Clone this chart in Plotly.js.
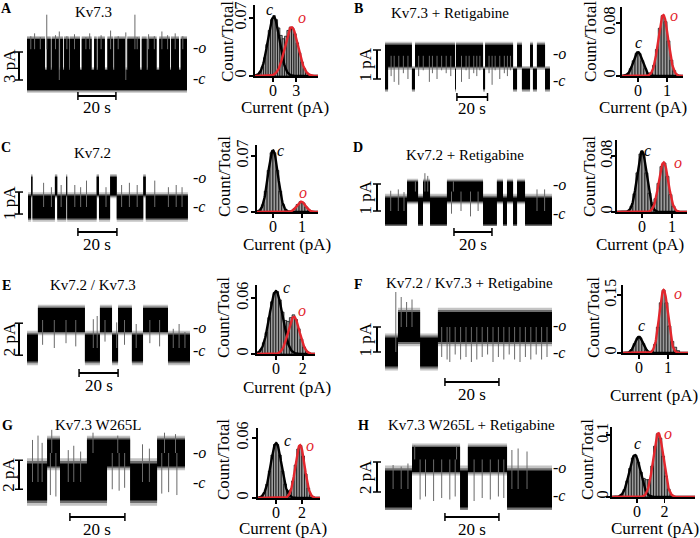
<!DOCTYPE html>
<html><head><meta charset="utf-8">
<script src="https://cdn.plot.ly/plotly-3.0.1.min.js"></script>
<style>html,body{margin:0;padding:0;background:#fff}#chart{width:700px;height:538px}</style>
</head><body><div id="chart"></div>
<script>
// ================= DATA =================
const panelLetters = ['A','B','C','D','E','F','G','H'];
const panelTitles = ['Kv7.3','Kv7.3 + Retigabine','Kv7.2','Kv7.2 + Retigabine','Kv7.2 / Kv7.3','Kv7.2 / Kv7.3 + Retigabine','Kv7.3 W265L','Kv7.3 W265L + Retigabine'];
const scaleBarPA = [3,1,1,1,2,1,2,2];
const scaleBarLabels = ['3 pA','1 pA','1 pA','1 pA','2 pA','1 pA','2 pA','2 pA'];
const timeBarS = 20;
const timeBarLabel = '20 s';
const openLevelPA = [3.3,0.8,0.95,0.72,1.75,1.0,2.0,1.97];
const noiseClosedPA = [1.07,0.35,0.52,0.5,0.84,0.58,1.28,1.23];
const noiseOpenPA = [1.1,0.38,0.43,0.37,0.75,0.6,0.93,0.83];

// single-channel records: dwell boundaries (s) and states (0 closed, 1 open, 2 flickering)
const traceA_t = [0,9.5,10.4,12.5,13.0,16.8,17.4,19.0,19.5,22.3,22.6,27.9,28.8,34.0,35.3,36.7,37.2,41.0,42.3,45.4,45.9,51.6,52.8,59.5,60.4,63.0,63.5,68.2,69.6,75.3,75.8,80.0,80.9,84.2];
const traceA_s = [2,0,2,0,2,0,2,0,2,0,2,0,2,0,2,0,2,0,2,0,2,0,2,0,2,0,2,0,2,0,2,0,2];
const traceB_t = [0,2.0,17.6,19.6,45.8,46.4,64.1,65.4,83.7,86.3,89.5,94.8,96.7,99.3,104.6,107.8];
const traceB_s = [2,1,0,1,0,1,0,1,0,1,0,1,0,1,0];
const traceC_t = [0,1.6,2.3,13.8,15.0,19.6,20.1,35.2,36.4,42.1,45.5,59.1,60.4,82.0];
const traceC_s = [0,1,0,1,0,1,0,1,0,1,0,1,0];
const traceD_t = [0,11.6,17.4,20.0,23.7,32.6,51.6,58.9,62.1,64.2,67.4,69.5,73.7,87.9];
const traceD_s = [0,1,0,1,0,1,0,1,0,1,0,1,0];
const traceE_t = [0,5.6,29.7,37.4,43.6,46.7,53.8,59.5,72.3,83.6];
const traceE_s = [0,1,0,1,0,1,0,1,0];
const traceF_t = [0,4.8,13.0,19.6,61.9];
const traceF_s = [0,1,0,1];
const traceG_t = [0,7.3,12.0,21.8,29.1,37.5,47.3,57.5];
const traceG_s = [0,1,0,2,1,0,1];
const traceH_t = [0,10.0,27.8,30.7,45.2,61.9];
const traceH_s = [0,1,0,1,0];

// brief events (gray spikes): time (s) and tip current (pA)
const spikeA_t = [2,4,7,10.4,15,17,21,25,31,33,39,44,48,52,56.8,58,64,67,71,74,78,82];
const spikeA_v = [4.7,5.0,4.6,7.0,4.8,5.2,4.7,4.9,4.6,5.0,4.8,5.3,4.7,5.1,7.0,4.6,4.9,4.7,5.2,4.8,5.0,4.7];
const spikeB_t = [4,6,9,12,15,22,25,29,31,34,37,40,43,50,53,55,58,60,62,68,70,72,75,78,80,82];
const spikeB_v = [0.1,-0.1,-0.2,0.2,0.0,0.1,0.3,-0.1,0.2,0.0,0.3,0.2,0.1,-0.1,0.3,0.0,0.2,0.1,0.3,0.2,-0.2,0.3,0.0,0.2,0.1,0.3];
const spikeC_t = [8,12,17,24,27,30,40,48,52,56,65,72,76,79];
const spikeC_v = [1.1,0.9,1.0,1.0,0.9,1.2,0.9,1.0,1.1,1.0,1.2,0.9,1.0,0.9];
const spikeD_t = [3,7,10,16,21,22.5,35,36,40,45,49,80,84];
const spikeD_v = [0.75,0.8,0.7,1.1,1.4,1.3,-0.1,1.1,0.0,-0.2,0.0,0.8,0.8];
const spikeE_t = [8,14,20,25,34,36,40,46,50,56,63,68,75,78,81];
const spikeE_v = [0.2,0.0,0.3,0.1,1.8,2.0,0.4,1.6,0.2,1.5,0.3,0.1,1.2,1.5,1.0];
const spikeF_t = [4.0,6.0,8.0,10.0,21,23,24,26,28,30,32,34,36,38,40,42,44,46,48,50,52,54,56,58,60];
const spikeF_v = [2.4,2.2,2.0,2.1,-0.2,-0.3,-0.4,-0.1,-0.3,-0.2,-0.4,-0.3,-0.2,-0.1,-0.4,-0.2,-0.3,-0.1,-0.3,-0.4,-0.2,-0.3,-0.1,-0.3,-0.2];
const spikeG_t = [2,4,5.5,15,17,19.5,42,44.5,8.5,9,10.5,24,31,33,33.5,35.5,49,50,51.5,54,54.5];
const spikeG_v = [2.9,3.2,2.7,2.2,2.5,2.1,2.6,2.3,-0.9,3.6,-1.0,3.4,-0.5,3.2,-0.6,-0.4,-0.8,3.4,-0.7,3.3,-0.9];
const spikeH_t = [3,6,8.5,11,13,15,18,21,24,26,26.5,33,36,39,42,44,47,49.3,52.6];
const spikeH_v = [1.6,1.5,1.7,2.9,-0.7,-0.5,-0.8,-0.6,-0.7,-0.5,2.8,-0.8,-0.6,-0.7,-0.5,-0.6,2.6,2.7,2.5];

// amplitude histograms: bin centres (pA) and fraction of counts
const histA_x = [-1.65,-1.35,-1.05,-0.75,-0.45,-0.15,0.15,0.45,0.75,1.05,1.35,1.65,1.95,2.25,2.55,2.85,3.15,3.45,3.75,4.05,4.35,4.65];
const histA_y = [0.005,0.011,0.022,0.038,0.055,0.068,0.073,0.068,0.058,0.049,0.045,0.048,0.055,0.059,0.058,0.051,0.040,0.028,0.017,0.009,0.004,0.002];
const histB_x = [-0.35,-0.25,-0.15,-0.05,0.05,0.15,0.25,0.35,0.45,0.55,0.65,0.75,0.85,0.95,1.05,1.15,1.25,1.35];
const histB_y = [0.003,0.011,0.023,0.034,0.034,0.023,0.011,0.004,0.005,0.016,0.040,0.072,0.091,0.082,0.053,0.024,0.008,0.002];
const histC_x = [-0.35,-0.25,-0.15,-0.05,0.05,0.15,0.25,0.35,0.45,0.55,0.65,0.75,0.85,0.95,1.05,1.15,1.25,1.35];
const histC_y = [0.009,0.026,0.052,0.074,0.074,0.052,0.026,0.009,0.002,0.001,0.0013,0.0044,0.0094,0.0129,0.0113,0.0063,0.0023,0.0005];
const histD_x = [-0.45,-0.35,-0.25,-0.15,-0.05,0.05,0.15,0.25,0.35,0.45,0.55,0.65,0.75,0.85,0.95,1.05,1.15];
const histD_y = [0.002,0.008,0.026,0.056,0.083,0.083,0.056,0.027,0.013,0.019,0.041,0.065,0.070,0.051,0.025,0.0085,0.002];
const histE_x = [-1.1,-0.9,-0.7,-0.5,-0.3,-0.1,0.1,0.3,0.5,0.7,0.9,1.1,1.3,1.5,1.7,1.9,2.1,2.3,2.5];
const histE_y = [0.005,0.012,0.023,0.039,0.056,0.066,0.067,0.058,0.045,0.036,0.035,0.039,0.042,0.037,0.027,0.016,0.0075,0.003,0.001];
const histF_x = [-0.35,-0.25,-0.15,-0.05,0.05,0.15,0.25,0.35,0.45,0.55,0.65,0.75,0.85,0.95,1.05,1.15,1.25,1.35];
const histF_y = [0.002,0.0085,0.024,0.039,0.039,0.024,0.0085,0.0024,0.005,0.022,0.067,0.130,0.163,0.130,0.070,0.030,0.015,0.006];
const histG_x = [-1.1,-0.9,-0.7,-0.5,-0.3,-0.1,0.1,0.3,0.5,0.7,0.9,1.1,1.3,1.5,1.7,1.9,2.1,2.3,2.5,2.7,2.9];
const histG_y = [0.002,0.0055,0.014,0.027,0.043,0.0535,0.0535,0.043,0.027,0.014,0.007,0.008,0.017,0.033,0.049,0.0525,0.042,0.024,0.010,0.003,0.001];
const histH_x = [-1.3,-1.1,-0.9,-0.7,-0.5,-0.3,-0.1,0.1,0.3,0.5,0.7,0.9,1.1,1.3,1.5,1.7,1.9,2.1,2.3,2.5,2.7];
const histH_y = [0.001,0.004,0.012,0.026,0.046,0.063,0.0675,0.056,0.040,0.030,0.028,0.028,0.050,0.082,0.102,0.095,0.066,0.034,0.013,0.004,0.001];

// Gaussian fits [mean pA, SD pA, peak]
const fitClosed = [[0.1,0.75,0.0715],[0,0.16,0.036],[0,0.17,0.077],[0,0.16,0.087],[0,0.48,0.0675],[0,0.14,0.042],[0,0.42,0.055],[-0.15,0.40,0.068]];
const fitOpen   = [[2.4,0.85,0.059],[0.87,0.17,0.092],[0.97,0.15,0.013],[0.72,0.16,0.071],[1.33,0.42,0.040],[0.85,0.15,0.163],[1.85,0.36,0.053],[1.55,0.37,0.103]];

const histXTicks = [[0,3],[0,1],[0,1],[0,1],[0,2],[0,1],[0,2],[0,2]];
const histYTicks = [[0,0.07],[0,0.08],[0,0.07],[0,0.08],[0,0.06],[0,0.15],[0,0.06],[0,0.1]];
const histYTickText = [['0','0.07'],['0','0.08'],['0','0.07'],['0','0.08'],['0','0.06'],['0','0.15'],['0','0.06'],['0','0.1']];

// ================= LAYOUT (pixels) =================
const W=700,H=538;
const fx=p=>p/W, fy=p=>1-p/H;
const FONT='Liberation Serif, serif';
const RED='#e3262d';
const tBox=[
 [27,187,8,98,80,9.33,1.9],
 [385,550,8,98,79,29,1.53],
 [28,188,145,226,207,22,1.95],
 [385,552,145,226,211,27,1.9],
 [27,190,280,368,348,16,1.95],
 [385,552,280,376,352,25,2.7],
 [27,185,418,510,482,14.5,2.75],
 [385,552,418,510,489,15,2.7]];
const vBarX=[19,377,19,377,19,377,19,377];
const vBarLo=[0,0,-0.32,0,-0.45,0,-0.5,-0.2];
const vBarTextX=[9,365,9,365,9,365,9,365];
const tBarStart=[26.8,47,25.6,36.3,26.7,22.2,15.6,22.2];
const tBarY=[96,97,232,232,373,382,517,517];
const hBox=[
 [255,318,5,76,[-2.3,5.8],0.0857,-4],
 [622,683,7,76,[-0.55,1.55],0.104,-6],
 [257,318,145,212,[-0.55,1.55],0.0837,-4],
 [617,687,140,212,[-0.83,1.5],0.103,-8],
 [257,315,285,354,[-1.4,2.9],0.074,-4],
 [623,688,285,353,[-0.55,1.69],0.176,-6],
 [258,320,428,498,[-1.4,3.4],0.07,-3],
 [612,695,427,497,[-1.8,4.2],0.113,-9]];
const letterPos=[[6,8],[358,8],[6,147],[358,147],[6,285],[358,284],[7,425],[363,425]];
const titlePos=[[93,12],[450,13],[92,153],[465,155],[93,285],[470,283],[98,425],[471,425]];
const ocX=[199,559,199,559,199,559,199,559];
const oY=[47,53,177,185,327,325,452,467];
const cY=[79,80,207,213,350,352,482,495];
const countPos=[[227,42],[590,42],[224,177],[589,177],[223,318],[593,318],[223,460],[587,460]];
const currentPos=[[285,108],[643,108],[287,244],[640,244],[287,387],[654,395],[283,528],[655,528]];
const histCPos=[[269,10],[638,43],[280,150],[647,150],[286,287],[641,325],[287,440],[637,443]];
const histOPos=[[302,17],[674,15],[303,192],[678,163],[302,310],[678,293],[310,445],[668,433]];

const traceT=[traceA_t,traceB_t,traceC_t,traceD_t,traceE_t,traceF_t,traceG_t,traceH_t];
const traceS=[traceA_s,traceB_s,traceC_s,traceD_s,traceE_s,traceF_s,traceG_s,traceH_s];
const spikeT=[spikeA_t,spikeB_t,spikeC_t,spikeD_t,spikeE_t,spikeF_t,spikeG_t,spikeH_t];
const spikeV=[spikeA_v,spikeB_v,spikeC_v,spikeD_v,spikeE_v,spikeF_v,spikeG_v,spikeH_v];
const histX=[histA_x,histB_x,histC_x,histD_x,histE_x,histF_x,histG_x,histH_x];
const histY=[histA_y,histB_y,histC_y,histD_y,histE_y,histF_y,histG_y,histH_y];

const data=[], shapes=[], annotations=[];
const layout={width:W,height:H,margin:{l:0,r:0,t:0,b:0},paper_bgcolor:'#fff',plot_bgcolor:'rgba(0,0,0,0)',
  showlegend:false,bargap:0,font:{family:FONT,size:15,color:'#000'}};

function band(t,s,o,wc,wo,k){
  const ux=[],uy=[],lx=[],ly=[];
  for(let i=0;i<s.length;i++){
    const u=(s[i]===0?0:o)+k*(s[i]===0?wc:wo);
    const l=(s[i]===1?o:0)-k*(s[i]===1?wo:wc);
    ux.push(t[i],t[i+1]); uy.push(u,u); lx.push(t[i],t[i+1]); ly.push(l,l);
  }
  return {x:ux.concat(lx.slice().reverse()), y:uy.concat(ly.slice().reverse())};
}
function stateAt(t,s,x){for(let i=0;i<s.length;i++){if(x>=t[i]&&x<t[i+1])return s[i];}return s[s.length-1];}
function ann(text,x,y,opt){annotations.push(Object.assign({text,x:fx(x),y:fy(y),xref:'paper',yref:'paper',showarrow:false,xanchor:'center',yanchor:'middle',font:{family:FONT,size:16,color:'#000'}},opt||{}));}

for(let p=0;p<8;p++){
  const ti=2*p+1, hi=2*p+2;
  const [x0,x1,yT,yB,cPx,ppa,pps]=tBox[p];
  const dur=(x1-x0)/pps;
  layout['xaxis'+ti]={domain:[fx(x0),fx(x1)],range:[0,dur],visible:false,anchor:'y'+ti,fixedrange:true};
  layout['yaxis'+ti]={domain:[fy(yB),fy(yT)],range:[(cPx-yB)/ppa,(cPx-yT)/ppa],visible:false,anchor:'x'+ti,fixedrange:true};
  const o=openLevelPA[p], wc=noiseClosedPA[p], wo=noiseOpenPA[p];
  [[1.28,'#c4c4c4'],[1.13,'#6e6e6e'],[1.0,'#000']].forEach(([k,col])=>{
    const b=band(traceT[p],traceS[p],o,wc,wo,k);
    data.push({type:'scatter',mode:'lines',x:b.x,y:b.y,fill:'toself',fillcolor:col,line:{width:0},xaxis:'x'+ti,yaxis:'y'+ti,hoverinfo:'skip'});
  });
  const sx=[],sy=[];
  spikeT[p].forEach((t,i)=>{const v=spikeV[p][i]; const st=stateAt(traceT[p],traceS[p],t); const base=(st===0)?0:o; sx.push(t,t,null); sy.push(base,v,null);});
  data.push({type:'scatter',mode:'lines',x:sx,y:sy,line:{color:'#6a6a6a',width:1},xaxis:'x'+ti,yaxis:'y'+ti,hoverinfo:'skip'});
  const lo=vBarLo[p], hiv=lo+scaleBarPA[p], vx=vBarX[p];
  shapes.push({type:'line',xref:'paper',yref:'y'+ti,x0:fx(vx),x1:fx(vx),y0:lo,y1:hiv,line:{color:'#000',width:2}});
  shapes.push({type:'line',xref:'paper',yref:'y'+ti,x0:fx(vx-4),x1:fx(vx+4),y0:lo,y1:lo,line:{color:'#000',width:1.5}});
  shapes.push({type:'line',xref:'paper',yref:'y'+ti,x0:fx(vx-4),x1:fx(vx+4),y0:hiv,y1:hiv,line:{color:'#000',width:1.5}});
  const vyMid=cPx-((lo+hiv)/2)*ppa;
  ann(scaleBarLabels[p],vBarTextX[p],vyMid,{textangle:-90,font:{family:FONT,size:17,color:'#000'}});
  const tb=tBarStart[p], ty=tBarY[p];
  shapes.push({type:'line',xref:'x'+ti,yref:'paper',x0:tb,x1:tb+timeBarS,y0:fy(ty),y1:fy(ty),line:{color:'#000',width:2}});
  shapes.push({type:'line',xref:'x'+ti,yref:'paper',x0:tb,x1:tb,y0:fy(ty-4),y1:fy(ty+4),line:{color:'#000',width:1.5}});
  shapes.push({type:'line',xref:'x'+ti,yref:'paper',x0:tb+timeBarS,x1:tb+timeBarS,y0:fy(ty-4),y1:fy(ty+4),line:{color:'#000',width:1.5}});
  ann(timeBarLabel,x0+(tb+timeBarS/2)*pps,ty+12,{font:{family:FONT,size:17,color:'#000'}});
  ann('-<i>o</i>',ocX[p],oY[p],{});
  ann('-<i>c</i>',ocX[p],cY[p],{});
  ann('<b>'+panelLetters[p]+'</b>',letterPos[p][0],letterPos[p][1],{font:{family:FONT,size:14,color:'#000'}});
  ann(panelTitles[p],titlePos[p][0],titlePos[p][1],{font:{family:FONT,size:15,color:'#000'}});

  const [hx0,hx1,hyT,hyB,xr,ym,so]=hBox[p];
  layout['xaxis'+hi]={domain:[fx(hx0),fx(hx1)],range:xr,anchor:'y'+hi,showline:true,linewidth:2.2,linecolor:'#000',
    ticks:'outside',ticklen:4,tickwidth:1.5,tickcolor:'#000',tickvals:histXTicks[p],ticktext:histXTicks[p].map(String),
    showgrid:false,zeroline:false,tickfont:{family:FONT,size:16,color:'#000'},fixedrange:true,ticklabelstandoff:-5};
  layout['yaxis'+hi]={domain:[fy(hyB),fy(hyT)],range:[0,ym],anchor:'x'+hi,showline:true,linewidth:2.2,linecolor:'#000',
    ticks:'outside',ticklen:4,tickwidth:1.5,tickcolor:'#000',tickvals:histYTicks[p],ticktext:histYTickText[p],tickangle:-90,
    showgrid:false,zeroline:false,tickfont:{family:FONT,size:16,color:'#000'},fixedrange:true,ticklabelstandoff:so};
  data.push({type:'bar',x:histX[p],y:histY[p],marker:{color:'#9c9c9c',line:{color:'#000',width:0.7}},xaxis:'x'+hi,yaxis:'y'+hi,hoverinfo:'skip'});
  const gx=[],gc=[],go=[];
  const n=160, c=fitClosed[p], op=fitOpen[p];
  for(let k=0;k<=n;k++){const x=xr[0]+(xr[1]-xr[0])*k/n; gx.push(x);
    gc.push(c[2]*Math.exp(-Math.pow(x-c[0],2)/(2*c[1]*c[1])));
    go.push(op[2]*Math.exp(-Math.pow(x-op[0],2)/(2*op[1]*op[1])));}
  data.push({type:'scatter',mode:'lines',x:gx,y:gc,line:{color:'#000',width:2.4},xaxis:'x'+hi,yaxis:'y'+hi,hoverinfo:'skip'});
  data.push({type:'scatter',mode:'lines',x:gx,y:go,line:{color:RED,width:2.4},xaxis:'x'+hi,yaxis:'y'+hi,hoverinfo:'skip'});
  ann('Count/Total',countPos[p][0],countPos[p][1],{textangle:-90,font:{family:FONT,size:17,color:'#000'}});
  ann('Current (pA)',currentPos[p][0],currentPos[p][1],{font:{family:FONT,size:17,color:'#000'}});
  ann('<i>c</i>',histCPos[p][0],histCPos[p][1],{font:{family:FONT,size:16,color:'#000'}});
  ann('<i>o</i>',histOPos[p][0],histOPos[p][1],{font:{family:FONT,size:16,color:RED}});
}
layout.shapes=shapes; layout.annotations=annotations;
Plotly.newPlot('chart',data,layout,{displayModeBar:false,staticPlot:true});
</script></body></html>
